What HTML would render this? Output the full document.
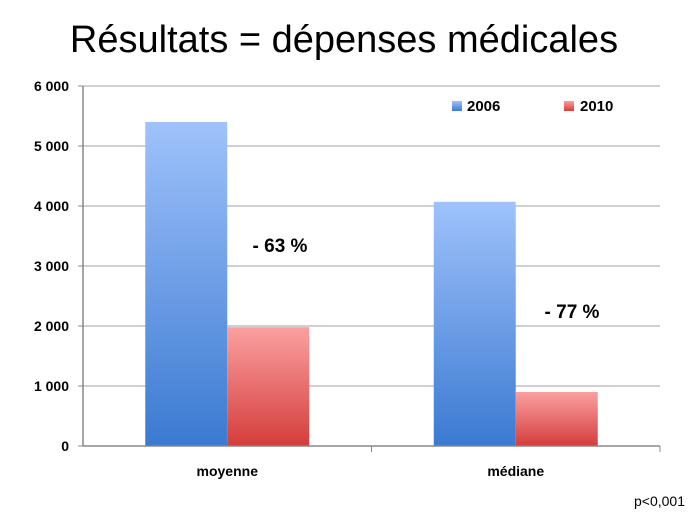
<!DOCTYPE html>
<html><head><meta charset="utf-8"><style>
body{margin:0;background:#fff;width:689px;height:517px;overflow:hidden;font-family:"Liberation Sans",sans-serif}
</style></head><body>
<svg width="689" height="517">
<defs>
<linearGradient id="gb" x1="0" y1="0" x2="0" y2="1"><stop offset="0" stop-color="#9fc2fb"/><stop offset="1" stop-color="#3b7ad1"/></linearGradient>
<linearGradient id="gr" x1="0" y1="0" x2="0" y2="1"><stop offset="0" stop-color="#fba0a0"/><stop offset="1" stop-color="#d43d3b"/></linearGradient>
</defs>
<text x="344" y="52" text-anchor="middle" font-size="38" fill="#000">Résultats = dépenses médicales</text>
<g id="grid"></g><g id="bars"></g><g id="axes"></g>
<rect x="452" y="101" width="10" height="10" fill="url(#gb)"/>
<text x="467" y="111" font-size="15" font-weight="bold">2006</text>
<rect x="564" y="101" width="10" height="10" fill="url(#gr)"/>
<text x="580" y="111" font-size="15" font-weight="bold">2010</text>
<text x="280" y="252" text-anchor="middle" font-size="19" font-weight="bold">- 63 %</text>
<text x="572" y="318" text-anchor="middle" font-size="19" font-weight="bold">- 77 %</text>
<text x="685" y="506" text-anchor="end" font-size="14">p&lt;0,001</text>
</svg>
<script>
const categories=["moyenne","médiane"];
const values2006=[5400,4070];
const values2010=[1980,900];
const ticks=[0,1000,2000,3000,4000,5000,6000];
const tickLabels=["0","1 000","2 000","3 000","4 000","5 000","6 000"];
const NS="http://www.w3.org/2000/svg";
const x0=83,x1=660,y0=446,yTop=86,maxV=6000;
const y=v=>y0-(y0-yTop)*v/maxV;
const band=(x1-x0)/categories.length;
function mk(t,a,p){const e=document.createElementNS(NS,t);for(const k in a)e.setAttribute(k,a[k]);document.getElementById(p).appendChild(e);return e;}
ticks.forEach((t,i)=>{
 if(t>0){const l=mk("line",{x1:x0,x2:x1,y1:y(t),y2:y(t),stroke:"#c0c0c0","stroke-width":1.5},"grid");
 
 }
 const tx=mk("text",{x:x0-14,y:y(t)+5,"text-anchor":"end","font-size":14,"font-weight":"bold"},"axes");
 tx.textContent=tickLabels[i];
 
 
 const tk=mk("line",{x1:x0-5,x2:x0,y1:y(t),y2:y(t),stroke:"#888"},"axes");
 
 
});
const ax=mk("line",{x1:x0,x2:x0,y1:yTop,y2:y0,stroke:"#888","stroke-width":1.5},"axes");


const bx=mk("line",{x1:x0,x2:x1,y1:y0,y2:y0,stroke:"#888","stroke-width":1.5},"axes");


const bw=82;
categories.forEach((c,i)=>{
 const cx=x0+band*(i+0.5);
 const b1=mk("rect",{x:cx-bw,y:y(values2006[i]),width:bw,height:y0-y(values2006[i]),fill:"url(#gb)"},"bars");
 
 
 const b2=mk("rect",{x:cx,y:y(values2010[i]),width:bw,height:y0-y(values2010[i]),fill:"url(#gr)"},"bars");
 
 
 const t=mk("text",{x:cx,y:y0+30,"text-anchor":"middle","font-size":14,"font-weight":"bold"},"axes");
 t.textContent=c;
 
 
 const tk=mk("line",{x1:x0+band*(i+1),x2:x0+band*(i+1),y1:y0,y2:y0+6,stroke:"#888"},"axes");
 
 
});
</script>
</body></html>
